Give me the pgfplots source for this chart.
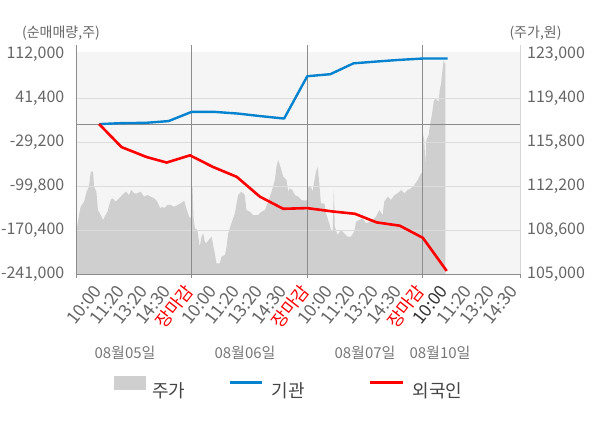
\documentclass[border=0pt]{standalone}
\usepackage{fontspec}
\setmainfont{Noto Sans CJK KR}
\usepackage{pgfplots}
\pgfplotsset{compat=1.18}
\definecolor{bggray}{HTML}{F5F5F5}
\definecolor{areagray}{HTML}{CFCFCF}
\definecolor{gridgray}{HTML}{DCDCDC}
\definecolor{sepgray}{HTML}{8C8C8C}
\definecolor{rightline}{HTML}{D6D6D6}
\definecolor{textgray}{HTML}{666666}
\definecolor{dategray}{HTML}{777777}
\definecolor{legendtext}{HTML}{444444}
\definecolor{tickdark}{HTML}{333333}
\definecolor{kblue}{HTML}{0683CF}
\definecolor{kred}{HTML}{FF0000}
\begin{document}
\begin{tikzpicture}
\useasboundingbox (0bp,0bp) rectangle (600bp,428bp);
% price axis (right)
\begin{axis}[
  at={(76bp,153.7bp)}, anchor=south west,
  scale only axis, width=444bp, height=222.6bp,
  xmin=0, xmax=19.2, ymin=105000, ymax=123213,
  scaled y ticks=false,
  axis background/.style={fill=bggray},
  axis line style={draw=none},
  tick style={draw=none}, major tick length=0pt,
  xtick=\empty,
  ytick={105000,108600,112200,115800,119400,123000},
  yticklabels={{105,000},{108,600},{112,200},{115,800},{119,400},{123,000}},
  ytick pos=right, yticklabel pos=right,
  extra y ticks={108600,112200,115800,119400},
  extra y tick labels={},
  extra y tick style={grid=major},
  grid style={gridgray, line width=1bp},
  yticklabel style={anchor=west, inner sep=0pt, xshift=7bp, font=\fontsize{16bp}{16bp}\selectfont, text=textgray},
  axis on top,
]
\addplot[fill=areagray, draw=none] coordinates {
(0.00,107950) (0.06,109030) (0.13,109850) (0.20,110530) (0.35,110940) (0.46,111760)
(0.56,112170) (0.64,113400) (0.74,113400) (0.78,112170) (0.88,111760) (0.95,110260)
(1.07,109850) (1.17,109440) (1.28,109850) (1.36,110120) (1.50,111080) (1.57,111220)
(1.72,110940) (1.86,111220) (2.00,111490) (2.15,111760) (2.29,111490) (2.39,111900)
(2.51,111630) (2.65,111630) (2.80,111760) (2.94,111350) (3.09,111490) (3.23,111350)
(3.38,111220) (3.52,110940) (3.64,110400) (3.74,110530) (3.81,110400) (3.95,110670)
(4.10,110670) (4.24,110530) (4.39,110670) (4.53,110810) (4.68,111020) (4.75,110530)
(4.89,109710) (4.97,109580)
(5.01,112300) (5.04,112000) (5.08,109710) (5.14,108760) (5.25,108620) (5.35,107260)
(5.43,108080) (5.50,108350) (5.57,107670) (5.64,107540) (5.74,107810) (5.86,108080)
(5.93,107400) (6.00,106720) (6.07,105900) (6.22,105900) (6.29,106440) (6.44,106580)
(6.51,107260) (6.58,108350) (6.72,109170) (6.87,109990) (7.01,111490) (7.16,111760)
(7.30,111490) (7.37,110260) (7.52,110120) (7.66,109850) (7.88,109850) (8.02,110120)
(8.17,110260) (8.31,110940) (8.46,111760) (8.60,112720) (8.67,113800) (8.74,114350)
(8.86,113670) (8.96,112990) (9.10,112720) (9.18,111760) (9.25,112040) (9.35,111900)
(9.47,111490) (9.61,111350) (9.75,111080) (9.90,111020)
(10.00,111080) (10.05,112170) (10.16,112170) (10.23,111760) (10.30,112580) (10.38,113400)
(10.45,113800) (10.52,112450) (10.59,110810) (10.74,110810) (10.81,109990) (10.95,109170)
(11.03,108620) (11.10,108620) (11.15,111900) (11.19,108900) (11.31,108220) (11.46,108620)
(11.60,108350) (11.74,108080) (11.89,108080) (12.03,108490) (12.11,109300) (12.25,109440)
(12.39,109580) (12.54,109170) (12.68,109300) (12.83,109440) (12.97,109710) (13.12,110260)
(13.26,109850) (13.33,110940) (13.48,111350) (13.62,111080) (13.77,111490) (13.91,111630)
(14.06,111900) (14.20,111630) (14.34,111900) (14.49,112040) (14.63,112300) (14.78,112720)
(14.92,113260) (14.99,113260)
(15.01,116400) (15.06,115990) (15.11,113940) (15.15,115990) (15.25,116400) (15.32,117350)
(15.40,118170) (15.47,119120) (15.54,119400) (15.61,119260) (15.68,119120) (15.73,120080)
(15.79,120630) (15.83,121450) (15.90,122530) (15.94,122260) (15.97,122260)
} \closedcycle;
\end{axis}
% net buying axis (left)
\begin{axis}[
  at={(76bp,153.7bp)}, anchor=south west,
  scale only axis, width=444bp, height=222.6bp,
  xmin=0, xmax=19.2, ymin=-241000, ymax=116172,
  scaled y ticks=false,
  axis line style={draw=none},
  tick style={draw=none}, major tick length=0pt,
  clip=false,
  xtick={1,...,19},
  xticklabels={10:00,11:20,13:20,14:30,\textcolor{kred}{장마감},
               10:00,11:20,13:20,14:30,\textcolor{kred}{장마감},
               10:00,11:20,13:20,14:30,\textcolor{kred}{장마감},
               \textcolor{tickdark}{10:00},11:20,13:20,14:30},
  ytick={-241000,-170400,-99800,-29200,41400,112000},
  yticklabels={{-241,000},{-170,400},{-99,800},{-29,200},{41,400},{112,000}},
  ytick pos=left, yticklabel pos=left,
  xticklabel style={anchor=base east, inner sep=0pt, xshift=3bp, yshift=-17bp, rotate=52, font=\fontsize{17.5bp}{17.5bp}\selectfont, text=textgray},
  yticklabel style={anchor=east, inner sep=0pt, xshift=-11.5bp, font=\fontsize{16bp}{16bp}\selectfont, text=textgray},
  legend columns=3,
  legend style={at={(0.0856,-0.507)}, anchor=west, draw=none, fill=none,
    inner sep=0pt, outer sep=0pt,
    font=\fontsize{18bp}{18bp}\selectfont, text=legendtext,
    nodes={inner sep=0pt},
    /tikz/column 1/.style={column sep=7bp},
    /tikz/column 2/.style={column sep=43bp},
    /tikz/column 3/.style={column sep=9bp},
    /tikz/column 4/.style={column sep=64bp},
    /tikz/column 5/.style={column sep=8bp}},
]
% frame and separators
\draw[rightline, line width=1bp] (axis cs:19.2,126900) -- (axis cs:19.2,-241000);
\draw[sepgray, line width=1bp] (axis cs:19.2,-241000) -- (axis cs:19.2,-246900);
\draw[sepgray, line width=1bp] (axis cs:0,126900) -- (axis cs:0,-246900);
\draw[sepgray, line width=1bp] (axis cs:5,126900) -- (axis cs:5,-246900);
\draw[sepgray, line width=1bp] (axis cs:10,126900) -- (axis cs:10,-246900);
\draw[sepgray, line width=1bp] (axis cs:15,126900) -- (axis cs:15,-246900);
\draw[sepgray, line width=1bp] (axis cs:0,-241000) -- (axis cs:19.2,-241000);
\draw[sepgray, line width=1bp] (axis cs:0,0) -- (axis cs:19.2,0);
\addlegendimage{legend image code/.code={\fill[areagray] (0bp,1.7bp) rectangle (31bp,14.7bp);}}
\addlegendentry{주가}
\addplot[color=kblue, line width=2.4bp, line join=round,
  legend image code/.code={\draw[kblue, line width=2.4bp] (0bp,8bp) -- (32bp,8bp);}] coordinates {
(1,0) (2,1600) (3,2000) (4,4800) (5,19600) (6,19600) (7,16900) (8,12700) (9,8900)
(10,76800) (11,80100) (12,97500) (13,100400) (14,103100) (15,105200) (16.07,105200)
};
\addlegendentry{기관}
\addplot[color=kred, line width=2.6bp, line join=round,
  legend image code/.code={\draw[kred, line width=2.6bp] (0bp,8bp) -- (33bp,8bp);}] coordinates {
(1,0) (1.97,-36900) (3.05,-52800) (3.92,-61700) (4.93,-50100) (5.92,-68700)
(6.95,-84600) (7.95,-116400) (8.96,-135900) (10,-134800) (11.1,-140200)
(12.06,-143900) (13,-157700) (14,-163000) (15,-182500) (16.03,-235600)
};
\addlegendentry{외국인}
\end{axis}
\node[font=\fontsize{14bp}{14bp}\selectfont, text=textgray] at (61bp,395bp) {(순매매량,주)};
\node[font=\fontsize{14bp}{14bp}\selectfont, text=textgray] at (535.5bp,395bp) {(주가,원)};
\node[font=\fontsize{15bp}{15bp}\selectfont, text=dategray] at (125bp,75bp) {08월05일};
\node[font=\fontsize{15bp}{15bp}\selectfont, text=dategray] at (245bp,75bp) {08월06일};
\node[font=\fontsize{15bp}{15bp}\selectfont, text=dategray] at (365bp,75bp) {08월07일};
\node[font=\fontsize{15bp}{15bp}\selectfont, text=dategray] at (440bp,75bp) {08월10일};
\end{tikzpicture}
\end{document}
